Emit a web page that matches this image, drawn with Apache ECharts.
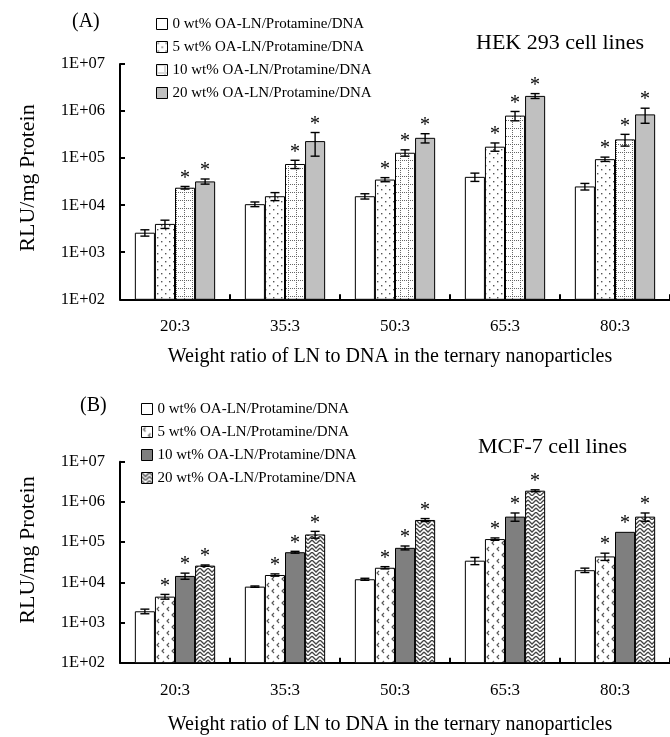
<!DOCTYPE html>
<html><head><meta charset="utf-8">
<script src="https://cdn.jsdelivr.net/npm/echarts@6/dist/echarts.min.js"></script>
<style>html,body{margin:0;padding:0;background:#fff}#c{width:670px;height:737px}</style>
</head><body><div id="c"></div>
<script>
// ---------- data ----------
const categories = ['20:3', '35:3', '50:3', '65:3', '80:3'];
const seriesNames = ['0 wt% OA-LN/Protamine/DNA', '5 wt% OA-LN/Protamine/DNA', '10 wt% OA-LN/Protamine/DNA', '20 wt% OA-LN/Protamine/DNA'];
const yTickLabels = ['1E+02', '1E+03', '1E+04', '1E+05', '1E+06', '1E+07'];

// Panel A: HEK 293 cell lines
const hek0 = [2600, 10500, 15500, 40000, 25000];
const hek5 = [4000, 15500, 35000, 175000, 95000];
const hek10 = [23500, 75000, 130000, 800000, 250000];
const hek20 = [32000, 230000, 270000, 2100000, 850000];
const hekErr0 = [400, 1200, 2000, 8000, 4000];
const hekErr5 = [800, 3000, 3500, 35000, 10000];
const hekErr10 = [1500, 15000, 20000, 180000, 70000];
const hekErr20 = [4000, 120000, 60000, 250000, 300000];
const hekStar0 = [0, 0, 0, 0, 0];
const hekStar5 = [0, 0, 1, 1, 1];
const hekStar10 = [1, 1, 1, 1, 1];
const hekStar20 = [1, 1, 1, 1, 1];

// Panel B: MCF-7 cell lines
const mcf0 = [1900, 7800, 11900, 34500, 20000];
const mcf5 = [4400, 15200, 23000, 119000, 44000];
const mcf10 = [14400, 56000, 72000, 430000, 180000];
const mcf20 = [26000, 155000, 355000, 1900000, 430000];
const mcfErr0 = [250, 300, 700, 7000, 2500];
const mcfErr5 = [600, 1000, 1500, 8000, 9000];
const mcfErr10 = [2500, 3000, 8000, 100000, 0];
const mcfErr20 = [1000, 30000, 30000, 100000, 100000];
const mcfStar0 = [0, 0, 0, 0, 0];
const mcfStar5 = [1, 1, 1, 1, 1];
const mcfStar10 = [1, 1, 1, 1, 1];
const mcfStar20 = [1, 1, 1, 1, 1];

// ---------- styles ----------
const FONT = "'Liberation Serif','Times New Roman',serif";
const GAP = 0.27;

function pattern(w, h, draw) {
  const c = document.createElement('canvas');
  c.width = w; c.height = h;
  const ctx = c.getContext('2d');
  ctx.fillStyle = '#fff'; ctx.fillRect(0, 0, w, h);
  draw(ctx);
  return { image: c, repeat: 'repeat' };
}
const patDots = pattern(8, 8, ctx => {
  ctx.fillStyle = '#555';
  ctx.fillRect(1, 1, 1.4, 1.4); ctx.fillRect(5, 5, 1.4, 1.4);
});
const patGrid = pattern(8, 8, ctx => {
  ctx.fillStyle = '#666';
  for (let i = 0; i < 8; i += 2) { ctx.fillRect(0, i, 1, 1); ctx.fillRect(i, 0, 1, 1); }
});
const patChevron = pattern(10, 12, ctx => {
  ctx.strokeStyle = '#555'; ctx.lineWidth = 1.1;
  ctx.beginPath();
  ctx.moveTo(4, 1); ctx.lineTo(2, 3); ctx.lineTo(4, 5);
  ctx.moveTo(9, 7); ctx.lineTo(7, 9); ctx.lineTo(9, 11);
  ctx.stroke();
});
const patZigzag = pattern(8, 8, ctx => {
  ctx.strokeStyle = '#444'; ctx.lineWidth = 1.3;
  ctx.beginPath();
  ctx.moveTo(0, 0); ctx.lineTo(4, 4); ctx.lineTo(8, 0);
  ctx.moveTo(0, 4); ctx.lineTo(4, 8); ctx.lineTo(8, 4);
  ctx.stroke();
});
const colorsA = ['#ffffff', patDots, patGrid, '#c0c0c0'];
const colorsB = ['#ffffff', patChevron, '#7f7f7f', patZigzag];
const namesB = seriesNames.map(n => n + '\u200b');

function yAxisCfg(gi) {
  return {
    gridIndex: gi, type: 'log', logBase: 10, min: 100, max: 10000000,
    axisLine: { show: true, lineStyle: { color: '#000', width: 2 } },
    axisTick: { show: true, inside: true, length: 5, lineStyle: { color: '#000', width: 2 } },
    minorTick: { show: false },
    splitLine: { show: false },
    axisLabel: {
      margin: 15, color: '#000', fontFamily: FONT, fontSize: 16.5,
      formatter: v => yTickLabels[Math.round(Math.log10(v)) - 2]
    }
  };
}
function xAxisCfg(gi) {
  return {
    gridIndex: gi, type: 'category', data: categories,
    axisLine: { show: true, lineStyle: { color: '#000', width: 2 } },
    axisTick: { show: true, inside: true, length: 5, interval: 0, lineStyle: { color: '#000', width: 2 } },
    axisLabel: { margin: 19, color: '#000', fontFamily: FONT, fontSize: 17, interval: 0 }
  };
}

function errRender(slot) {
  return function (params, api) {
    const cat = api.value(0), v = api.value(1), e = api.value(2), star = api.value(3);
    const band = api.coord([1, v])[0] - api.coord([0, v])[0];
    const barW = band * (1 - GAP) / 4;
    const c = api.coord([cat, v]);
    const x = c[0] + (slot - 1.5) * barW;
    const children = [];
    let topY = c[1];
    if (e > 0) {
      const yt = api.coord([cat, v + e])[1];
      const yb = api.coord([cat, Math.max(v - e, 101)])[1];
      topY = yt;
      const hw = 4.5;
      const st = { stroke: '#000', lineWidth: 1.4 };
      children.push({ type: 'line', shape: { x1: x, y1: yt, x2: x, y2: yb }, style: st });
      children.push({ type: 'line', shape: { x1: x - hw, y1: yt, x2: x + hw, y2: yt }, style: st });
      children.push({ type: 'line', shape: { x1: x - hw, y1: yb, x2: x + hw, y2: yb }, style: st });
    }
    if (star) {
      children.push({ type: 'text', x: x, y: topY - 8,
        style: { text: '*', font: '20px ' + FONT, fill: '#000', align: 'center', verticalAlign: 'middle' } });
    }
    return { type: 'group', children };
  };
}

const panels = [
  { vals: [hek0, hek5, hek10, hek20], errs: [hekErr0, hekErr5, hekErr10, hekErr20], stars: [hekStar0, hekStar5, hekStar10, hekStar20], colors: colorsA, names: seriesNames },
  { vals: [mcf0, mcf5, mcf10, mcf20], errs: [mcfErr0, mcfErr5, mcfErr10, mcfErr20], stars: [mcfStar0, mcfStar5, mcfStar10, mcfStar20], colors: colorsB, names: namesB }
];

const series = [];
panels.forEach((p, gi) => {
  p.vals.forEach((arr, i) => {
    series.push({
      type: 'bar', name: p.names[i], xAxisIndex: gi, yAxisIndex: gi,
      data: arr, barGap: '0%', barCategoryGap: (GAP * 100) + '%',
      itemStyle: { color: p.colors[i], borderColor: '#000', borderWidth: 1 },
      emphasis: { disabled: true }, animation: false, z: 2
    });
  });
  p.vals.forEach((arr, i) => {
    series.push({
      type: 'custom', xAxisIndex: gi, yAxisIndex: gi, z: 5, animation: false,
      renderItem: errRender(i),
      encode: { x: 0, y: 1 },
      data: arr.map((v, k) => [k, v, p.errs[i][k], p.stars[i][k]])
    });
  });
});

const legendText = { fontFamily: FONT, fontSize: 15, color: '#000', lineHeight: 23 };
const option = {
  backgroundColor: '#fff',
  animation: false,
  grid: [
    { left: 120, top: 64, width: 554, height: 235.3 },
    { left: 120, top: 461.7, width: 554, height: 201 }
  ],
  xAxis: [xAxisCfg(0), xAxisCfg(1)],
  yAxis: [yAxisCfg(0), yAxisCfg(1)],
  legend: [
    { data: seriesNames, orient: 'vertical', left: 151, top: 7.5, itemWidth: 11, itemHeight: 11, itemGap: 0,
      icon: 'rect', itemStyle: { borderColor: '#000', borderWidth: 1 }, textStyle: legendText, selectedMode: false },
    { data: namesB, orient: 'vertical', left: 136, top: 392.5, itemWidth: 11, itemHeight: 11, itemGap: 0,
      icon: 'rect', itemStyle: { borderColor: '#000', borderWidth: 1 }, textStyle: legendText, selectedMode: false,
      formatter: n => n.replace('\u200b', '') }
  ],
  graphic: [
    { type: 'text', left: 72, top: 12, style: { text: '(A)', font: '20px ' + FONT, fill: '#000' } },
    { type: 'text', left: 476, top: 32, style: { text: 'HEK 293 cell lines', font: '22px ' + FONT, fill: '#000' } },
    { type: 'text', x: 390, y: 357, style: { text: 'Weight ratio of LN to DNA in the ternary nanoparticles', font: '20px ' + FONT, fill: '#000', align: 'center', verticalAlign: 'middle' } },
    { type: 'text', x: 28, y: 178, rotation: Math.PI / 2, style: { text: 'RLU/mg Protein', font: '22px ' + FONT, fill: '#000', align: 'center', verticalAlign: 'middle' } },
    { type: 'text', left: 80, top: 396, style: { text: '(B)', font: '20px ' + FONT, fill: '#000' } },
    { type: 'text', left: 478, top: 436, style: { text: 'MCF-7 cell lines', font: '22px ' + FONT, fill: '#000' } },
    { type: 'text', x: 390, y: 725, style: { text: 'Weight ratio of LN to DNA in the ternary nanoparticles', font: '20px ' + FONT, fill: '#000', align: 'center', verticalAlign: 'middle' } },
    { type: 'text', x: 28, y: 550, rotation: Math.PI / 2, style: { text: 'RLU/mg Protein', font: '22px ' + FONT, fill: '#000', align: 'center', verticalAlign: 'middle' } }
  ],
  series
};
const chart = echarts.init(document.getElementById('c'), null, { renderer: 'canvas' });
chart.setOption(option);
</script>
</body></html>
